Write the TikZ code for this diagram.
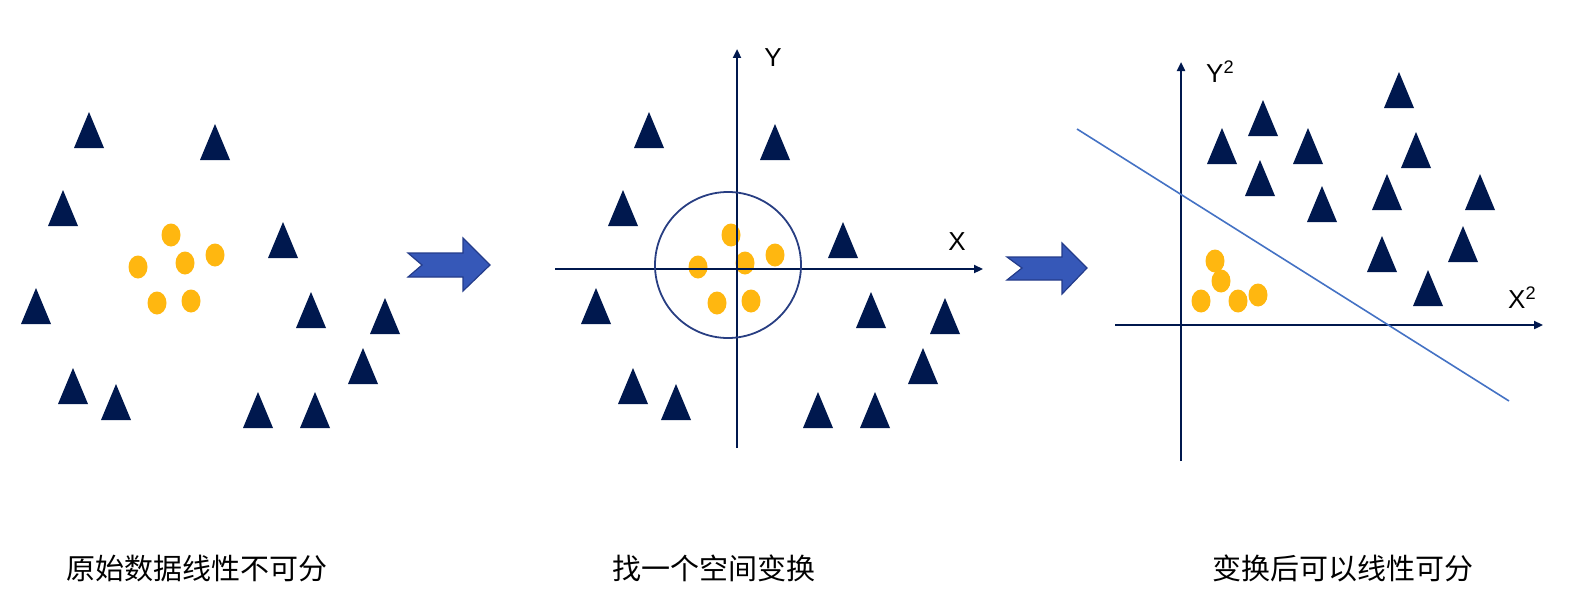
\documentclass[tikz,border=0pt]{standalone}
\usepackage{fontspec}
\setmainfont{Liberation Sans}
\newfontfamily\cjkfont{Noto Sans CJK SC}
\usepackage{xcolor}
\usetikzlibrary{arrows.meta}

\definecolor{navy}{RGB}{0,24,78}
\definecolor{gold}{RGB}{255,183,16}
\definecolor{arrowblue}{RGB}{54,88,184}
\definecolor{arrowedge}{RGB}{36,60,138}
\definecolor{ringblue}{RGB}{40,62,130}
\definecolor{splitblue}{RGB}{68,114,196}

\begin{document}
\begin{tikzpicture}[
        x=1pt, y=-1pt,
        % Styles
        tri/.pic={\fill[navy] (-15,0) -- (0,-36) -- (15,0) -- cycle;},
        blob/.pic={\fill[gold] (0,0) ellipse (9.5pt and 11.5pt);},
        axis/.style={
            draw=navy, line width=2.2pt,
            -{Triangle[length=9pt, width=8pt]}
        },
        bigarrow/.style={
            fill=arrowblue, draw=arrowedge, line width=1.2pt, line join=miter
        },
        axlabel/.style={font=\fontsize{26}{30}\selectfont, inner sep=0pt},
        caption/.style={font=\cjkfont\fontsize{29}{34}\selectfont, inner sep=0pt}
    ]

        \useasboundingbox (0,0) rectangle (1576,610);

        % Panel 1 and 2: the same data, panel 2 with axes
        \foreach \dx in {0,560}{
            \begin{scope}[xshift=\dx pt]
                \foreach \px/\py in {89/148, 215/160, 63/226, 283/258, 36/324, 311/328,
                                     385/334, 363/384, 73/404, 116/420, 258/428, 315/428}
                    \pic at (\px,\py) {tri};
                \foreach \px/\py in {171/235, 138/267, 185/263, 215/255, 157/303, 191/301}
                    \pic at (\px,\py) {blob};
            \end{scope}
        }

        % Axes of panel 2
        \coordinate (xa2) at (555,269);
        \coordinate (xb2) at (983,269);
        \coordinate (ya2) at (737,448);
        \coordinate (yb2) at (737,49);
        \draw[axis] (xa2) -- (xb2);
        \draw[axis] (ya2) -- (yb2);
        \node[axlabel] (ylab2) at (773,58) {Y};
        \node[axlabel] (xlab2) at (957,242) {X};

        % Circle round the inner class
        \draw[ringblue, line width=1.8pt] (728,265) circle [radius=73pt];

        % Panel 3: after the mapping
        \foreach \px/\py in {1399/108, 1263/136, 1222/164, 1308/164, 1416/168, 1260/196,
                             1322/222, 1387/210, 1480/210, 1382/272, 1463/262, 1428/306}
            \pic at (\px,\py) {tri};
        \foreach \px/\py in {1215/261, 1221/281, 1201/301, 1238/301, 1258/295}
            \pic at (\px,\py) {blob};

        \coordinate (xa3) at (1115,325);
        \coordinate (xb3) at (1543,325);
        \coordinate (ya3) at (1181,461);
        \coordinate (yb3) at (1181,62);
        \draw[axis] (xa3) -- (xb3);
        \draw[axis] (ya3) -- (yb3);
        \node[axlabel, anchor=west] (ylab3) at (1206,72) {Y\textsuperscript{2}};
        \node[axlabel, anchor=west] (xlab3) at (1508,298) {X\textsuperscript{2}};

        % Separating line
        \coordinate (sa) at (1077,129);
        \coordinate (sb) at (1509,401);
        \draw[splitblue, line width=1.6pt] (sa) -- (sb);

        % Block arrows between panels
        \draw[bigarrow] (408,253) -- (463,253) -- (463,238) -- (490,265) -- (463,291)
            -- (463,277) -- (408,277) -- (422,265) -- cycle;
        \draw[bigarrow] (1007,257) -- (1062,257) -- (1062,243) -- (1087,268) -- (1062,294)
            -- (1062,280) -- (1007,280) -- (1022,268) -- cycle;

        % Captions
        \node[caption] (cap1) at (197,568) {原始数据线性不可分};
        \node[caption] (cap2) at (714,568) {找一个空间变换};
        \node[caption] (cap3) at (1343,568) {变换后可以线性可分};

    \end{tikzpicture}
\end{document}
